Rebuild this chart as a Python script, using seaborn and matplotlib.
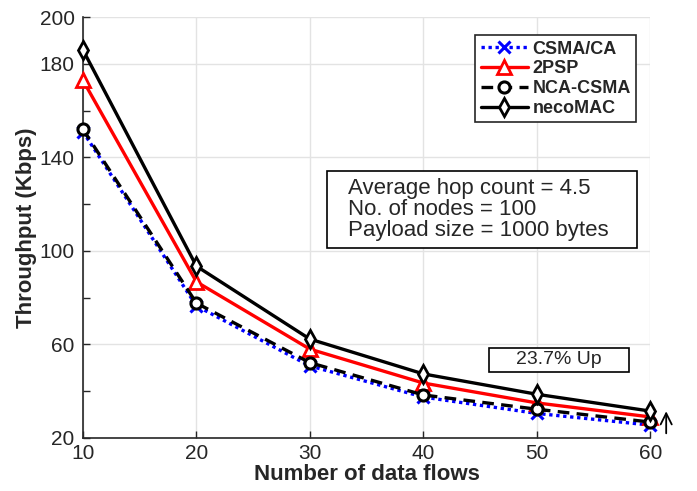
import numpy as np
import pandas as pd
import matplotlib
matplotlib.use('Agg')
import matplotlib.pyplot as plt
from matplotlib.patches import Rectangle
import seaborn as sns

# data
flows = [10, 20, 30, 40, 50, 60]
csma_ca = [151.0, 76.5, 50.8, 37.5, 30.5, 25.5]
two_psp = [173.0, 86.8, 58.0, 43.5, 35.0, 29.0]
nca_csma = [152.0, 77.7, 52.2, 38.4, 32.3, 26.8]
necomac = [186.0, 93.5, 62.3, 47.4, 38.7, 31.5]

series_names = ['CSMA/CA', '2PSP', 'NCA-CSMA', 'necoMAC']
series_vals = [csma_ca, two_psp, nca_csma, necomac]

y_ticks = [20, 60, 100, 140, 180, 200]
y_minor = [40, 80, 120, 160]
x_ticks = [10, 20, 30, 40, 50, 60]

info_lines = ['Average hop count = 4.5', 'No. of nodes = 100', 'Payload size = 1000 bytes']
gain_label = '23.7% Up'

sns.set_style('white')
plt.rcParams['font.family'] = ['Liberation Sans', 'DejaVu Sans']

fig = plt.figure(figsize=(6.97, 4.91), dpi=100)
ax = fig.add_axes([0.119, 0.108, 0.814, 0.857])

styles = {
    'CSMA/CA': dict(color='#0000ff', linestyle=(0, (1, 1.1)), marker='x', mfc='#0000ff', mew=2.2, ms=8),
    '2PSP': dict(color='#ff0000', linestyle='-', marker='^', mfc='white', mew=2.0, ms=10),
    'NCA-CSMA': dict(color='black', linestyle=(0, (3.5, 2.2)), marker='o', mfc='white', mew=2.2, ms=8),
    'necoMAC': dict(color='black', linestyle='-', marker='d', mfc='white', mew=2.0, ms=9),
}

for name, vals in zip(series_names, series_vals):
    st = styles[name]
    sns.lineplot(x=flows, y=vals, ax=ax, label=name, color=st['color'],
                 linestyle=st['linestyle'], marker=st['marker'], markersize=st['ms'],
                 markerfacecolor=st['mfc'], markeredgecolor=st['color'],
                 markeredgewidth=st['mew'], linewidth=2.4, clip_on=False, zorder=3)

ax.set_xlim(10, 60)
ax.set_ylim(20, 200)
ax.set_xticks(x_ticks)
ax.set_yticks(y_ticks)
ax.set_yticks(y_minor, minor=True)
ax.grid(True, which='major', color='#e3e3e3', linewidth=1.0)
ax.set_axisbelow(True)
for side in ['top', 'right']:
    ax.spines[side].set_visible(False)
for side in ['left', 'bottom']:
    ax.spines[side].set_color('#262626')
    ax.spines[side].set_linewidth(1.2)
ax.tick_params(axis='both', which='both', direction='in', colors='#262626', labelsize=15,
               left=True, bottom=True, length=5, width=1.0)
ax.tick_params(axis='y', pad=6)
ax.tick_params(axis='x', pad=4)

ax.set_xlabel('Number of data flows', fontsize=16, fontweight='bold', labelpad=1)
ax.set_ylabel('Throughput (Kbps)', fontsize=16, fontweight='bold', labelpad=2)

leg = ax.legend(loc='upper right', bbox_to_anchor=(0.975, 0.957), prop={'weight': 'bold', 'size': 13},
                frameon=True, fancybox=False, edgecolor='#262626', handlelength=2.6,
                handletextpad=0.25, borderpad=0.3, labelspacing=0.15, borderaxespad=0)
leg.get_frame().set_linewidth(1.2)
leg.get_frame().set_alpha(1)

# info box
ax.add_patch(Rectangle((0.430, 0.451), 0.547, 0.183, transform=ax.transAxes,
                       fc='white', ec='black', lw=1.2, zorder=4))
ax.text(0.467, 0.5425, '\n'.join(info_lines), transform=ax.transAxes, fontsize=16,
        va='center', ha='left', linespacing=1.0, zorder=5)

# gain box
ax.add_patch(Rectangle((0.716, 0.157), 0.247, 0.057, transform=ax.transAxes,
                       fc='white', ec='black', lw=1.2, zorder=2))
ax.text(0.8395, 0.1855, gain_label, transform=ax.transAxes, fontsize=14,
        va='center', ha='center', zorder=2)

ax.annotate('', xy=(61.4, 32.6), xytext=(61.4, 20.8), annotation_clip=False,
            arrowprops=dict(arrowstyle='->', color='black', lw=1.3, mutation_scale=20))

fig.savefig('out.png', dpi=100)
